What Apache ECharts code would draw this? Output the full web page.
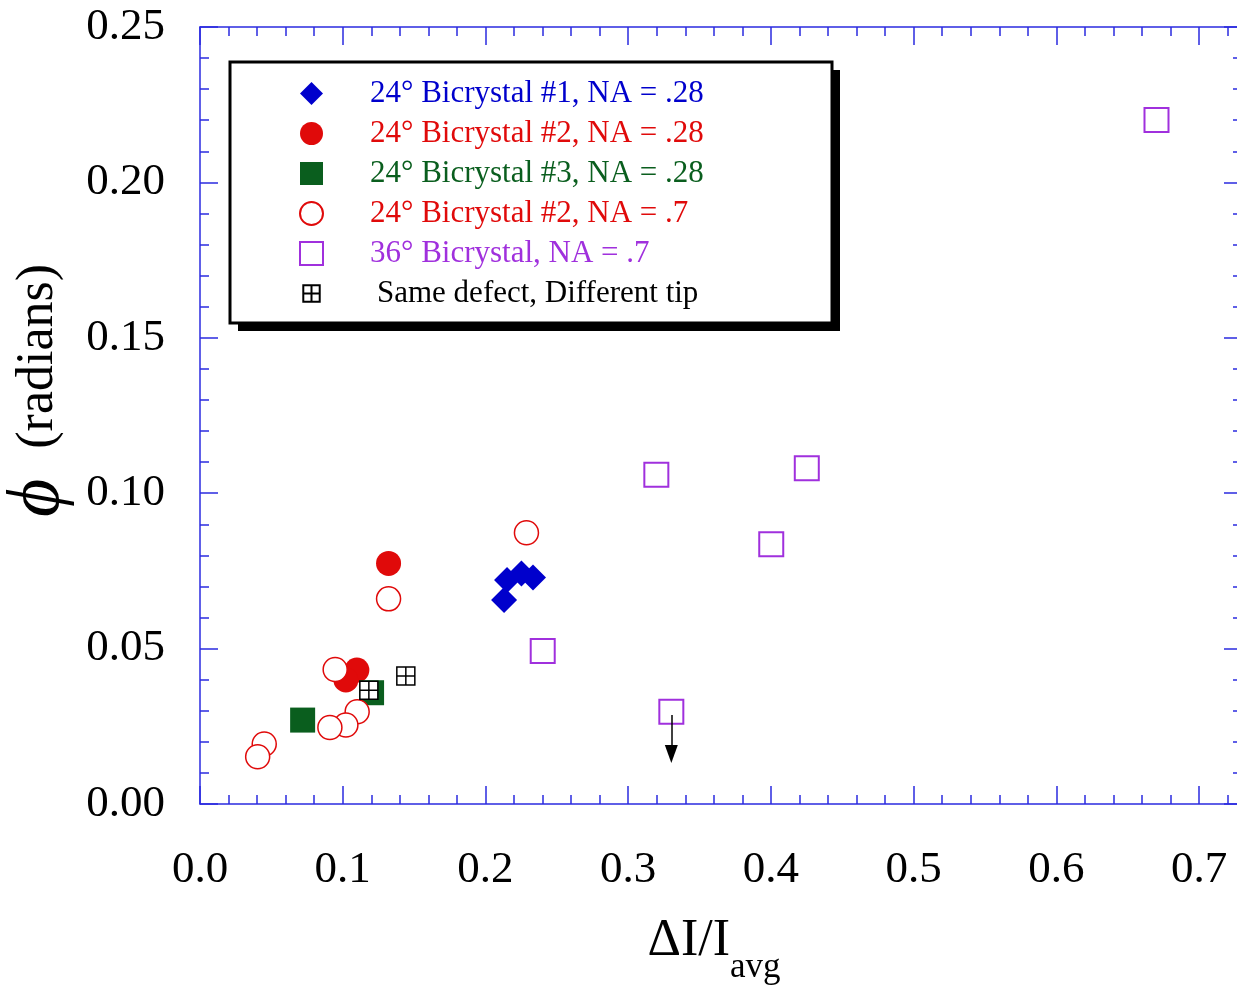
<!DOCTYPE html>
<html>
<head>
<meta charset="utf-8">
<script src="https://cdn.jsdelivr.net/npm/echarts@6/dist/echarts.min.js"></script>
<style>
html,body{margin:0;padding:0;background:#fff;}
#chart{width:1237px;height:994px;}
</style>
</head>
<body>
<div id="chart"></div>
<script>
// ---- data (x = ΔI/Iavg, y = φ in radians) ----
const bicrystal1_NA028 = [[0.2130,0.0656],[0.2151,0.0721],[0.2252,0.0742],[0.2333,0.0729]];
const bicrystal2_NA028 = [[0.1321,0.0774],[0.1099,0.0431],[0.1022,0.0399]];
const bicrystal3_NA028 = [[0.0719,0.0270],[0.1202,0.0358]];
const bicrystal2_NA07  = [[0.1321,0.0660],[0.2287,0.0873],[0.0947,0.0433],[0.1101,0.0297],[0.1022,0.0254],[0.0910,0.0246],[0.0450,0.0193],[0.0404,0.0152]];
const bicrystal36_NA07 = [[0.3197,0.1059],[0.4251,0.1080],[0.4002,0.0836],[0.2401,0.0492],[0.3302,0.0297],[0.6701,0.2201]];
const sameDefect       = [[0.1183,0.0366],[0.1442,0.0412]];
const arrowFrom = [0.3302,0.0286];
const arrowTo   = [0.3302,0.0161];

const seriesNames = [
  '24° Bicrystal #1, NA = .28',
  '24° Bicrystal #2, NA = .28',
  '24° Bicrystal #3, NA = .28',
  '24° Bicrystal #2, NA = .7',
  '36° Bicrystal, NA = .7',
  'Same defect, Different tip'
];
const xRange = [0, 0.73];
const yRange = [0, 0.25];

const FONT = '"Liberation Serif","Times New Roman",Times,serif';
const AX = '#2b2be0';
const BLUE = '#0000cc', RED = '#e00a0a', GREEN = '#0a5e1e', PURPLE = '#a030dd';
const GRIDSYM = 'path://M0,0H20V20H0Z M10,0V20 M0,10H20';

const chart = echarts.init(document.getElementById('chart'));

function xAx(pos, major, showLabel, extra) {
  return Object.assign({
    type:'value', position:pos, min:xRange[0], max:xRange[1],
    interval: major ? 0.1 : 0.02,
    axisLine:{show:major, onZero:false, lineStyle:{color:AX,width:1.5}},
    axisTick:{show:true, inside:true, length: major ? 18 : 9, lineStyle:{color:AX,width:1.5}},
    axisLabel:{show:showLabel, fontFamily:FONT, fontSize:45, color:'#000', margin:44,
      formatter: v => (Math.abs(v*10-Math.round(v*10))<1e-6 ? v.toFixed(1) : '')},
    splitLine:{show:false}
  }, extra || {});
}
function yAx(pos, showLabel, extra) {
  return Object.assign({
    type:'value', position:pos, min:yRange[0], max:yRange[1], interval:0.05,
    axisLine:{show:true, onZero:false, lineStyle:{color:AX,width:1.5}},
    axisTick:{show:true, inside:true, length:18, lineStyle:{color:AX,width:1.5}},
    minorTick:{show:true, splitNumber:5, length:9, lineStyle:{color:AX,width:1.5}},
    axisLabel:{show:showLabel, fontFamily:FONT, fontSize:45, color:'#000', margin:35,
      formatter: v => v.toFixed(2)},
    splitLine:{show:false}, minorSplitLine:{show:false}
  }, extra || {});
}

const option = {
  animation:false,
  backgroundColor:'#fff',
  textStyle:{fontFamily:FONT},
  grid:{left:200, top:27, width:1042, height:777, containLabel:false, outerBoundsMode:'none'},
  xAxis:[
    xAx('bottom', true, true, {
      name:'{a|ΔI/I}{b|avg}', nameLocation:'middle', nameGap:98,
      nameTextStyle:{rich:{
        a:{fontFamily:FONT, fontSize:52, lineHeight:52, color:'#000'},
        b:{fontFamily:FONT, fontSize:35, lineHeight:35, color:'#000', padding:[52,14,0,0]}
      }}
    }),
    xAx('bottom', false, false),
    xAx('top', true, false),
    xAx('top', false, false)
  ],
  yAxis:[
    yAx('left', true, {
      name:'{p|ϕ}{r|(radians)}', nameLocation:'middle', nameRotate:90, nameGap:122,
      nameTextStyle:{rich:{
        p:{fontFamily:FONT, fontSize:74, lineHeight:64, fontStyle:'italic', color:'#000', padding:[0,0,0,50]},
        r:{fontFamily:FONT, fontSize:52, lineHeight:64, color:'#000', padding:[0,0,0,30]}
      }}
    }),
    yAx('right', false)
  ],
  legend:{
    orient:'vertical', left:294, top:73, z:10,
    itemWidth:23, itemHeight:23, itemGap:9, selectedMode:false,
    textStyle:{fontFamily:FONT, fontSize:31, padding:[0,0,0,42]},
    data:[
      {name:seriesNames[0], textStyle:{color:BLUE}},
      {name:seriesNames[1], textStyle:{color:RED}},
      {name:seriesNames[2], textStyle:{color:GREEN}},
      {name:seriesNames[3], textStyle:{color:RED}},
      {name:seriesNames[4], textStyle:{color:PURPLE}},
      {name:seriesNames[5], textStyle:{color:'#000', padding:[0,0,0,49]},
       icon:'path://M-4,-4 M24,24 M0,0H20V20H0Z M10,0V20 M0,10H20'}
    ]
  },
  graphic:[
    {type:'rect', z:1, silent:true, shape:{x:238,y:70,width:602,height:261}, style:{fill:'#000'}},
    {type:'rect', z:2, silent:true, shape:{x:230,y:62,width:602,height:261}, style:{fill:'#fff',stroke:'#000',lineWidth:3}}
  ],
  series:[
    {name:seriesNames[4], type:'scatter', data:bicrystal36_NA07, symbol:'rect', symbolSize:24,
     itemStyle:{color:'#fff', borderColor:PURPLE, borderWidth:2, opacity:1}, z:2,
     markLine:{silent:true, animation:false, symbol:['none','triangle'], symbolSize:[13,18],
       label:{show:false}, lineStyle:{color:'#000', width:1.5, type:'solid', opacity:1},
       data:[[{coord:arrowFrom},{coord:arrowTo}]]}},
    {name:seriesNames[1], type:'scatter', data:bicrystal2_NA028, symbol:'circle', symbolSize:25,
     itemStyle:{color:RED, opacity:1}, z:3},
    {name:seriesNames[2], type:'scatter', data:bicrystal3_NA028, symbol:'rect', symbolSize:25,
     itemStyle:{color:GREEN, opacity:1}, z:3},
    {name:seriesNames[3], type:'scatter', data:bicrystal2_NA07, symbol:'circle', symbolSize:24,
     itemStyle:{color:'#fff', borderColor:RED, borderWidth:1.5, opacity:1}, z:4},
    {name:seriesNames[0], type:'scatter', data:bicrystal1_NA028, symbol:'diamond', symbolSize:26,
     itemStyle:{color:BLUE, opacity:1}, z:5},
    {name:seriesNames[5], type:'scatter', data:sameDefect, symbol:GRIDSYM, symbolSize:18,
     itemStyle:{color:'#fff', borderColor:'#000', borderWidth:1.5, opacity:1}, z:6}
  ]
};
chart.setOption(option);
</script>
</body>
</html>
